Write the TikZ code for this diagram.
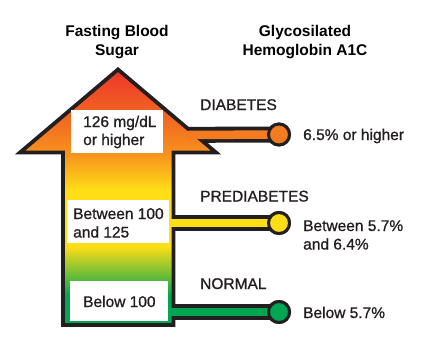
\documentclass[tikz,border=0pt]{standalone}
\usepackage{fontspec}
\setmainfont{Liberation Sans}
\newfontfamily\medfont[FakeBold=1.0]{Liberation Sans}
\definecolor{cred}{HTML}{ED2A2A}
\definecolor{corange}{HTML}{F37021}
\definecolor{clorange}{HTML}{F7941D}
\definecolor{cyellow}{HTML}{FFDD17}
\definecolor{cgreen}{HTML}{00A651}
\definecolor{cline}{HTML}{231F20}
\definecolor{cdiab}{HTML}{F47B20}
\begin{document}
\begin{tikzpicture}[x=1pt,y=-1pt,
  txt/.style={font=\medfont\fontsize{15.5}{18.5}\selectfont, text=cline, inner sep=0pt},
  head/.style={txt, font=\fontsize{15.5}{18.5}\selectfont\bfseries, text=black},
  wbox/.style={fill=white, draw=none, inner sep=0pt, anchor=north west},
  dot/.style={circle, draw=cline, line width=3pt, minimum size=21pt, inner sep=0pt},
  blackband/.style={draw=cline, line width=16pt},
  band/.style={line width=8.5pt}]
\useasboundingbox (0,0) rectangle (422,359);
% coordinates
\coordinate (dA) at (150,135);
\coordinate (dB) at (188,135);
\coordinate (pA) at (150,223);
\coordinate (pB) at (171,223);
\coordinate (nA) at (150,312);
\coordinate (nB) at (171,312);
\node[dot, fill=cdiab] (dc) at (279,134.5) {};
\node[dot, fill=cyellow] (pc) at (279,223) {};
\node[dot, fill=cgreen] (nc) at (279,312) {};
% black outer bands
\draw[blackband] (dA) -- (dc.center);
\draw[blackband] (pA) -- (pc.center);
\draw[blackband] (nA) -- (nc.center);
% arrow
\begin{scope}
\clip (118,69.5) -- (216,152.5) -- (173.5,152.5) -- (173.5,325) -- (63,325) -- (63,152.5) -- (20,152.5) -- cycle;
\shade[top color=cred, bottom color=corange] (0,60) rectangle (240,125);
\shade[top color=corange, bottom color=clorange] (0,125) rectangle (240,155);
\shade[top color=clorange, bottom color=cyellow] (0,155) rectangle (240,190);
\fill[cyellow] (0,190) rectangle (240,246);
\shade[top color=cyellow, bottom color=cgreen] (0,246) rectangle (240,296);
\fill[cgreen] (0,296) rectangle (240,330);
\end{scope}
\draw[cline, line width=3.8pt, line join=miter] (118,69.5) -- (216,152.5) -- (173.5,152.5) -- (173.5,325) -- (63,325) -- (63,152.5) -- (20,152.5) -- cycle;
% coloured bands
\draw[band, cdiab] (dB) -- (dc.center);
\draw[band, cyellow] (pB) -- (pc.center);
\draw[band, cgreen] (nB) -- (nc.center);
% redraw dots on top
\node[dot, fill=cdiab] at (dc) {};
\node[dot, fill=cyellow] at (pc) {};
\node[dot, fill=cgreen] at (nc) {};
% white boxes
\node[wbox, minimum width=92pt, minimum height=43pt] (b1) at (71,110) {};
\node[wbox, minimum width=102pt, minimum height=43pt] (b2) at (67,200) {};
\node[wbox, minimum width=98pt, minimum height=40pt] (b3) at (70,281) {};
\node[txt, anchor=base west] (b1a) at (83,127) {126 mg/dL};
\node[txt, anchor=base west] (b1b) at (83,145) {or higher};
\node[txt, anchor=base west] (b2a) at (73,219) {Between 100};
\node[txt, anchor=base west] (b2b) at (73,237.5) {and 125};
\node[txt, anchor=base west] (b3a) at (83,307) {Below 100};
% headers
\node[head, anchor=base] (h1a) at (117,36) {Fasting Blood};
\node[head, anchor=base] (h1b) at (117,55) {Sugar};
\node[head, anchor=base] (h2a) at (305,36) {Glycosilated};
\node[head, anchor=base] (h2b) at (305,55) {Hemoglobin A1C};
% labels
\node[txt, anchor=base west] (l1) at (200,110) {DIABETES};
\node[txt, anchor=base west] (l2) at (200,201.5) {PREDIABETES};
\node[txt, anchor=base west] (l3) at (200,289) {NORMAL};
\node[txt, anchor=base west] (r1) at (303,140) {6.5\% or higher};
\node[txt, anchor=base west] (r2a) at (303,231) {Between 5.7\%};
\node[txt, anchor=base west] (r2b) at (303,249.5) {and 6.4\%};
\node[txt, anchor=base west] (r3) at (303,318) {Below 5.7\%};
\end{tikzpicture}
\end{document}
